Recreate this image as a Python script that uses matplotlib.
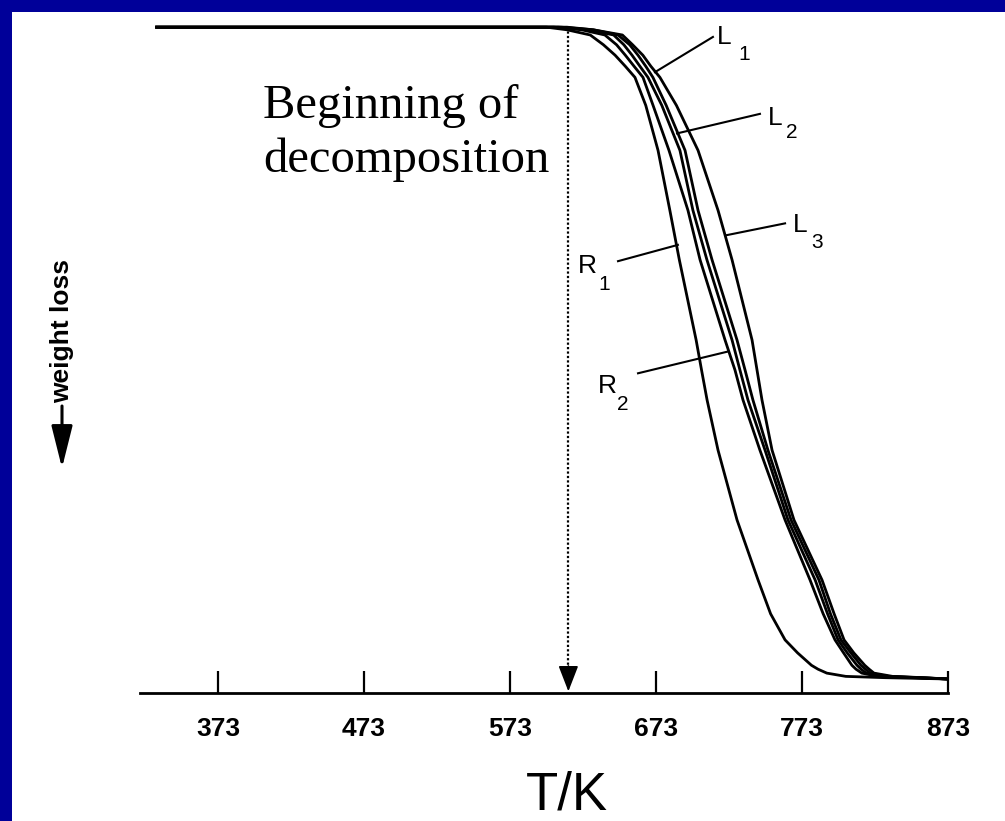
import matplotlib
matplotlib.use("Agg")
import matplotlib.pyplot as plt
from matplotlib.patches import Rectangle

# ---- data ----
# relative weight (%) levels shared by all curves
W_LEVELS = [100, 100, 99.6, 98.8, 97.3, 95.7, 94.0, 92.3, 88.0, 81.1, 71.9, 64.3,
            52.0, 47.4, 42.8, 35.1, 24.4, 15.2, 10.0, 6.0, 4.0, 2.1, 1.5, 0.9, 0.4, 0.2, 0.0]

# temperature (K) at which each sample reaches the levels above
T_R1 = [331, 598, 612, 628, 637, 645, 652, 658.6, 666, 674.4, 682.5, 689,
        700.5, 704.2, 708, 715.5, 728.5, 742.9, 751.5, 761.4, 770, 779.5, 784, 790, 803, 830, 873]
T_R2 = [331, 603, 622, 638, 646, 652, 658, 664.1, 671, 681.9, 694.9, 703.2,
        720.3, 727.1, 732.6, 744.2, 761.4, 778.5, 787.5, 795.6, 801.5, 807.2, 810, 814, 825, 850, 873]
T_L2 = [331, 606, 627, 644, 651, 656.6, 662, 667.5, 677, 689.4, 698.3, 707.9,
        725.1, 730.5, 736, 747.7, 763.4, 782, 790.5, 797.7, 804, 810.7, 813.5, 817, 829, 852, 873]
T_L1 = [331, 608, 630, 647, 655, 660.7, 666, 670.9, 680, 692.9, 701.8, 711.4,
        728.5, 734, 739.4, 749.7, 765.5, 784.6, 792.5, 799.7, 806.5, 813.4, 816.5, 819.6, 832, 854, 873]
T_L3 = [331, 612, 630, 650, 657, 664, 669.5, 675.7, 687, 701.8, 715.5, 725.1,
        738.8, 742.2, 745.6, 752.5, 767.5, 786.7, 795, 801.8, 808.5, 816, 819, 822.3, 835, 856, 873]

CURVES = [T_R1, T_R2, T_L2, T_L1, T_L3]

X_TICKS = [373, 473, 573, 673, 773, 873]
T_ONSET = 613  # beginning of decomposition

# curve labels: letter, subscript, point on curve, end of leader, letter pos, subscript pos
LABEL_TEXT = ["L", "L", "L", "R", "R"]
LABEL_SUB = ["1", "2", "3", "1", "2"]
LEADER_FROM = [(672.3, 93.1), (687.4, 83.7), (721.6, 68.1), (688.0, 66.6), (721.6, 50.2)]
LEADER_TO = [(712.0, 98.5), (744.2, 86.7), (761.4, 69.9), (647.0, 64.1), (660.7, 46.9)]
LETTER_POS = [(714.8, 97.4), (749.7, 85.0), (766.8, 68.6), (619.6, 62.3), (633.3, 43.9)]
SUB_POS = [(729.5, 94.9), (762.0, 83.0), (779.0, 66.1), (633.6, 59.7), (646.5, 41.3)]

BLUE = "#000099"

W, H = 1005, 821
fig = plt.figure(figsize=(W / 100, H / 100), dpi=100, facecolor=BLUE)
fig.patches.append(Rectangle((12 / W, 0), 1 - 12 / W, 1 - 12 / H,
                             transform=fig.transFigure, facecolor="white",
                             edgecolor="none", zorder=-5))

ax = fig.add_axes([140 / W, 1 - 693 / H, (948 - 140) / W, (693 - 20) / H])
ax.set_facecolor("none")
ax.set_xlim(319.6, 873)
ax.set_ylim(-2.15, 101.1)

for T in CURVES:
    ax.plot(T, W_LEVELS, color="black", lw=2.0, solid_joinstyle="round")

# onset marker
ax.plot([T_ONSET, T_ONSET], [100, -0.5], color="black", lw=1.6, ls=(0, (1, 1)))
ax.annotate("", xy=(T_ONSET, -1.9), xytext=(T_ONSET, 2.0),
            arrowprops=dict(arrowstyle="-|>,head_length=1.6,head_width=0.62",
                            color="black", lw=1.2, shrinkA=0, shrinkB=0))

ax.text(403.8, 86.0, "Beginning of", family="Liberation Serif", fontsize=35,
        ha="left", va="baseline")
ax.text(403.8, 77.8, "decomposition", family="Liberation Serif", fontsize=35,
        ha="left", va="baseline")

for i in range(len(LABEL_TEXT)):
    ax.plot([LEADER_FROM[i][0], LEADER_TO[i][0]], [LEADER_FROM[i][1], LEADER_TO[i][1]],
            color="black", lw=1.5)
    ax.text(*LETTER_POS[i], LABEL_TEXT[i], family="Liberation Sans", fontsize=19,
            ha="left", va="baseline")
    ax.text(*SUB_POS[i], LABEL_SUB[i], family="Liberation Sans", fontsize=15,
            ha="left", va="baseline")

for s in ["top", "left", "right"]:
    ax.spines[s].set_visible(False)
ax.spines["bottom"].set_linewidth(2.0)
ax.set_yticks([])
ax.set_xticks(X_TICKS)
ax.set_xticklabels([str(t) for t in X_TICKS], family="Liberation Sans",
                   fontweight="bold", fontsize=19)
ax.tick_params(axis="x", direction="in", length=15.8, width=1.6, pad=17)

fig.text(567 / W, 1 - 795 / H, "T/K", family="Liberation Sans", fontsize=38,
         ha="center", va="center")

# y label with downward arrow
fig.text(62 / W, 1 - 331 / H, "weight loss", family="Liberation Sans", fontweight="bold",
         fontsize=19, rotation=90, ha="center", va="center")
ax.annotate("", xy=(62 / W, 1 - 468 / H), xytext=(62 / W, 1 - 406 / H),
            xycoords="figure fraction", textcoords="figure fraction",
            arrowprops=dict(arrowstyle="-|>,head_length=2.6,head_width=0.65",
                            color="black", lw=2.2, shrinkA=0, shrinkB=0))

fig.savefig("out.png", dpi=100, facecolor=BLUE)
